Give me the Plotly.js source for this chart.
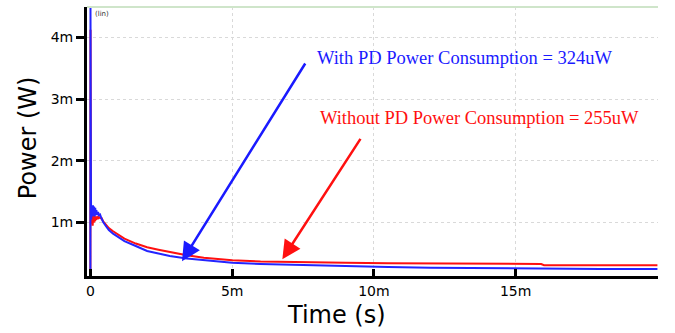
<!DOCTYPE html>
<html>
<head>
<meta charset="utf-8">
<script src="https://cdn.plot.ly/plotly-3.0.1.min.js"></script>
<style>html,body{margin:0;padding:0;background:#fff;}#chart{width:675px;height:333px;}</style>
</head>
<body>
<div id="chart"></div>
<script>
// Time in ms, power in mW
const redTimeMs = [0, 0.004, 0.008, 0.012, 0.02, 0.04, 0.06, 0.08, 0.10, 0.12, 0.14, 0.16, 0.18, 0.20, 0.23, 0.26, 0.30, 0.35, 0.40, 0.45, 0.55, 0.65, 0.8, 1.0, 1.2, 1.6, 2.0, 2.4, 2.8, 3.4, 4.0, 5.0, 6.0, 7.5, 9.0, 10.5, 12.0, 14.0, 15.9, 16.0, 18.0, 20.0];
const redPowerMw = [0.14, 4.12, 2.0, 0.95, 1.2, 0.98, 1.18, 0.95, 1.15, 1.0, 1.12, 1.02, 1.1, 1.04, 1.1, 1.06, 1.09, 1.07, 1.07, 1.02, 0.96, 0.91, 0.86, 0.80, 0.74, 0.66, 0.60, 0.56, 0.52, 0.47, 0.43, 0.39, 0.37, 0.365, 0.35, 0.34, 0.335, 0.33, 0.33, 0.31, 0.31, 0.31];

const blueTimeMs = [0, 0.003, 0.008, 0.012, 0.016, 0.02, 0.03, 0.05, 0.07, 0.09, 0.11, 0.13, 0.15, 0.17, 0.19, 0.21, 0.24, 0.27, 0.30, 0.34, 0.38, 0.45, 0.55, 0.65, 0.8, 1.0, 1.2, 1.6, 2.0, 2.4, 2.8, 3.4, 4.0, 5.0, 6.0, 7.5, 9.0, 10.5, 12.0, 14.0, 16.0, 18.0, 20.0];
const bluePowerMw = [0.15, 4.48, 1.0, 1.9, 1.0, 1.4, 1.05, 1.25, 1.1, 1.28, 1.12, 1.26, 1.1, 1.24, 1.12, 1.2, 1.12, 1.17, 1.12, 1.13, 1.08, 1.01, 0.94, 0.88, 0.82, 0.76, 0.70, 0.62, 0.54, 0.50, 0.46, 0.42, 0.39, 0.35, 0.33, 0.31, 0.295, 0.28, 0.27, 0.26, 0.255, 0.25, 0.25];

const xTickVals = [0, 0.005, 0.01, 0.015];
const xTickText = ['0', '5m', '10m', '15m'];
const yTickVals = [0.001, 0.002, 0.003, 0.004];
const yTickText = ['1m', '2m', '3m', '4m'];

const withLabel = "With PD Power Consumption = 324uW";
const withoutLabel = "Without PD Power Consumption = 255uW";

const ms = v => v / 1000;

const traces = [
  {x: redTimeMs.map(ms), y: redPowerMw.map(ms), type: 'scatter', mode: 'lines',
   line: {color: '#ff1010', width: 2}, hoverinfo: 'skip', name: 'Without PD'},
  {x: blueTimeMs.map(ms), y: bluePowerMw.map(ms), type: 'scatter', mode: 'lines',
   line: {color: '#2424ff', width: 2}, hoverinfo: 'skip', name: 'With PD'}
];

const xr = [-0.00012, 0.02002];
const yr = [0.000135, 0.00449];

const layout = {
  width: 675, height: 333,
  margin: {l: 87, r: 17, t: 7, b: 57},
  paper_bgcolor: '#fff', plot_bgcolor: '#fff',
  showlegend: false,
  font: {family: 'DejaVu Sans, Arial, sans-serif', color: '#000'},
  xaxis: {
    range: xr, tickmode: 'array', tickvals: xTickVals, ticktext: xTickText,
    showline: true, linecolor: '#000', linewidth: 3,
    ticks: 'inside', ticklen: 7, tickwidth: 3, tickcolor: '#000',
    showgrid: true, gridcolor: '#d9d9d9', gridwidth: 1, griddash: 'dot',
    zeroline: false, tickfont: {size: 14, family: 'DejaVu Sans, Arial, sans-serif', color: '#000'},
    title: {text: ''}
  },
  yaxis: {
    range: yr, tickmode: 'array', tickvals: yTickVals, ticktext: yTickText,
    showline: true, linecolor: '#000', linewidth: 3,
    ticks: 'outside', ticklen: 8, tickwidth: 3, tickcolor: '#000',
    showgrid: true, gridcolor: '#d9d9d9', gridwidth: 1, griddash: 'dot',
    zeroline: false, tickfont: {size: 14, family: 'DejaVu Sans, Arial, sans-serif', color: '#000'},
    title: {text: ''}
  },
  shapes: [
    {type: 'line', xref: 'paper', yref: 'paper', x0: 0, x1: 1, y0: 1, y1: 1,
     line: {color: '#cfe5ca', width: 2}}
  ],
  annotations: [
    {x: 0.00323, y: 0.000373, ax: 0.00761, ay: 0.0036, xref: 'x', yref: 'y', axref: 'x', ayref: 'y',
     text: '', showarrow: true, arrowhead: 2, arrowsize: 1.5, arrowwidth: 2.5, arrowcolor: '#1a1aff'},
    {x: 0.00677, y: 0.000405, ax: 0.00956, ay: 0.00238, xref: 'x', yref: 'y', axref: 'x', ayref: 'y',
     text: '', showarrow: true, arrowhead: 2, arrowsize: 1.5, arrowwidth: 2.5, arrowcolor: '#ff1010'},
    {x: 0.00792, y: 0.00367, xref: 'x', yref: 'y', xanchor: 'left', yanchor: 'middle', showarrow: false,
     text: withLabel, font: {family: 'Liberation Serif, Times New Roman, serif', size: 18.5, color: '#1a1aff'}},
    {x: 0.00802, y: 0.0027, xref: 'x', yref: 'y', xanchor: 'left', yanchor: 'middle', showarrow: false,
     text: withoutLabel, font: {family: 'Liberation Serif, Times New Roman, serif', size: 18.5, color: '#ff1010'}},
    {x: 0.00869, xref: 'x', y: -0.145, yref: 'paper', xanchor: 'center', yanchor: 'middle', showarrow: false,
     text: 'Time (s)', font: {family: 'DejaVu Sans, Arial, sans-serif', size: 24, color: '#000'}},
    {x: -0.102, xref: 'paper', y: 0.515, yref: 'paper', xanchor: 'center', yanchor: 'middle', showarrow: false,
     textangle: -90, text: 'Power (W)', font: {family: 'DejaVu Sans, Arial, sans-serif', size: 24, color: '#000'}},
    {x: 0.01, xref: 'paper', y: 0.974, yref: 'paper', xanchor: 'left', yanchor: 'middle', showarrow: false,
     text: '(lin)', font: {family: 'DejaVu Sans, Arial, sans-serif', size: 7, color: '#333'}}
  ]
};

Plotly.newPlot('chart', traces, layout, {staticPlot: true, displayModeBar: false});
</script>
</body>
</html>
